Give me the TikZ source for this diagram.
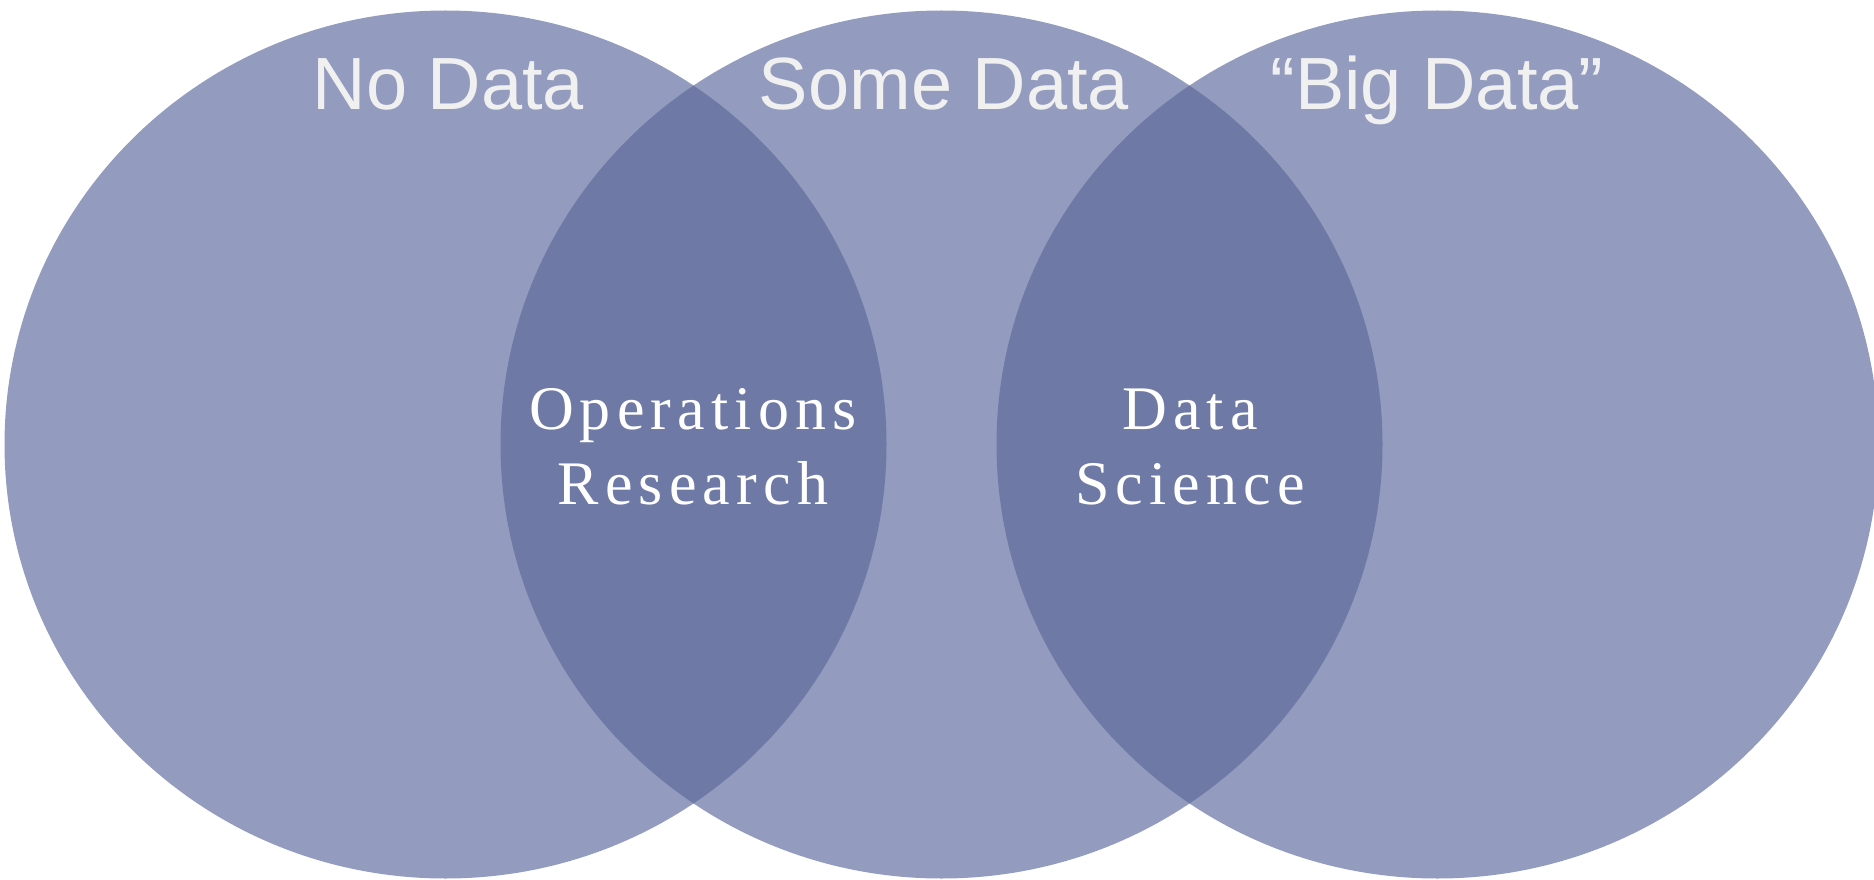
\documentclass[tikz,border=0pt]{standalone}
\usepackage{fontspec}
\setmainfont{Liberation Serif}
\newfontfamily\setfont{Liberation Sans}
\newfontfamily\lensfont[LetterSpace=10]{Liberation Serif}
\definecolor{setblue}{HTML}{939BBF}
\definecolor{lensblue}{HTML}{6F79A6}
\definecolor{setgray}{HTML}{F0F0F0}

\begin{document}
\begin{tikzpicture}[x=1pt, y=-1pt,
    setshape/.style={x radius=441pt, y radius=434pt},
    setlabel/.style={text=setgray, font=\setfont\fontsize{74}{80}\selectfont, anchor=base},
    lenslabel/.style={text=white, font=\lensfont\fontsize{62}{75}\selectfont, align=center, anchor=base}]
    \useasboundingbox (0,0) rectangle (1874,880);

    % Centres of the three sets
    \coordinate (nodata) at (445.5,444.5);
    \coordinate (somedata) at (941.5,444.5);
    \coordinate (bigdata) at (1437.5,444.5);

    % Draw the three sets
    \fill [setblue] (nodata) ellipse [setshape];
    \fill [setblue] (somedata) ellipse [setshape];
    \fill [setblue] (bigdata) ellipse [setshape];

    % Darker overlaps
    \begin{scope}
        \clip (nodata) ellipse [setshape];
        \fill [lensblue] (somedata) ellipse [setshape];
    \end{scope}
    \begin{scope}
        \clip (bigdata) ellipse [setshape];
        \fill [lensblue] (somedata) ellipse [setshape];
    \end{scope}

    % Set names at the top
    \node [setlabel] (nodatalabel) at (448.5,110) {No Data};
    \node [setlabel] (somedatalabel) at (944,110) {Some Data};
    \node [setlabel] (bigdatalabel) at (1437,110) {“Big Data”};

    % Labels of the overlaps
    \node [lenslabel] (orlabel) at (693,504) {Operations\\Research};
    \node [lenslabel] (dslabel) at (1190,504) {Data\\Science};
\end{tikzpicture}
\end{document}
